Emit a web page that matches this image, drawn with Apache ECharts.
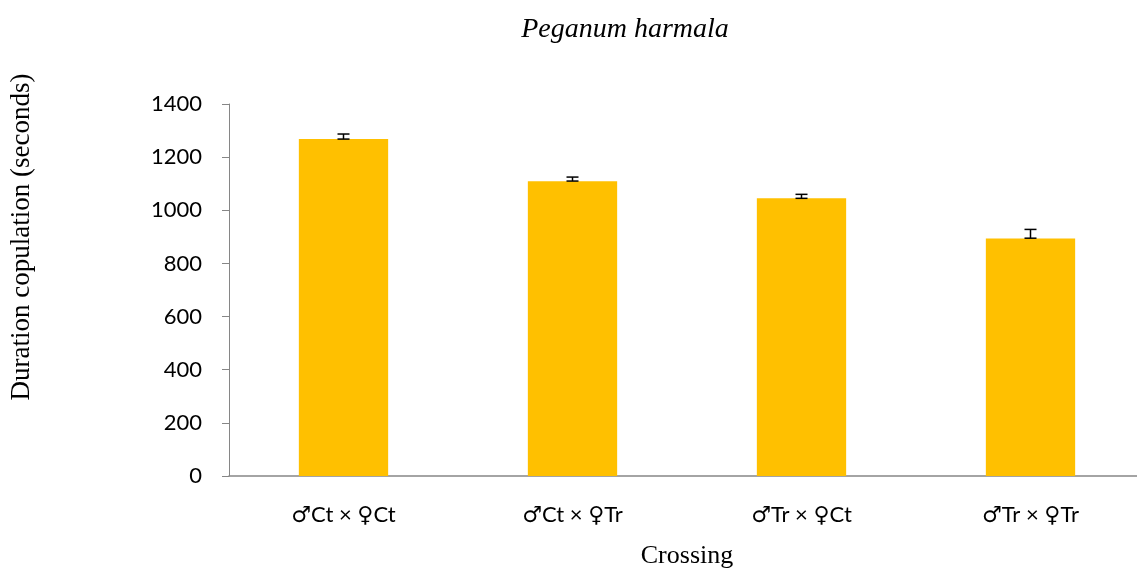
<!DOCTYPE html>
<head>
    <meta charset="utf-8">
    <title>Peganum harmala</title>
    <style>
        html, body { margin: 0; padding: 0; background: #fff; }
        #main { width: 1137px; height: 568px; }
    </style>
</head>
<body>
<div id="main"></div>

<script src="https://cdn.jsdelivr.net/npm/echarts@6/dist/echarts.min.js"></script>
<script type="text/javascript">
    // data
    var crossings = ['♂Ct × ♀Ct', '♂Ct × ♀Tr', '♂Tr × ♀Ct', '♂Tr × ♀Tr'];
    var durations = [1268, 1109, 1045, 894];
    var errLow = [1268, 1110, 1045, 895];
    var errHigh = [1287, 1125, 1060, 928];
    var yTicks = [0, 200, 400, 600, 800, 1000, 1200, 1400];

    var errData = crossings.map(function (c, i) {
        return [i, errLow[i], errHigh[i]];
    });

    var axisGray = '#868686';
    var serif = '"Liberation Serif", "DejaVu Serif", serif';

    var chart = echarts.init(document.getElementById('main'));
    chart.setOption({
        backgroundColor: '#fff',
        animation: false,
        title: {
            text: 'Peganum harmala',
            left: 620,
            top: 11,
            textAlign: 'center',
            textStyle: {
                fontFamily: serif,
                fontStyle: 'italic',
                fontWeight: 'normal',
                fontSize: 28,
                color: '#000'
            }
        },
        // y axis title sits higher than the plot middle, so it is placed by hand
        graphic: [{
            type: 'text',
            x: 22,
            y: 237,
            rotation: Math.PI / 2,
            style: {
                text: 'Duration copulation (seconds)',
                fontFamily: serif,
                fontSize: 27,
                fill: '#000',
                align: 'center',
                verticalAlign: 'middle'
            }
        }],
        grid: {
            left: 229,
            right: -8,
            top: 104,
            bottom: 92,
            outerBoundsMode: 'none',
            containLabel: false
        },
        xAxis: {
            type: 'category',
            data: crossings,
            name: 'Crossing',
            nameLocation: 'middle',
            nameGap: 67,
            nameTextStyle: {
                fontFamily: serif,
                fontSize: 26,
                color: '#000'
            },
            axisLine: { lineStyle: { color: axisGray, width: 1.5 } },
            axisTick: { length: 7, lineStyle: { color: axisGray } },
            axisLabel: {
                margin: 28,
                fontFamily: 'Lato, "DejaVu Sans", sans-serif',
                fontSize: 22,
                color: '#000'
            }
        },
        yAxis: {
            type: 'value',
            min: yTicks[0],
            max: yTicks[yTicks.length - 1],
            interval: 200,
            splitLine: { show: false },
            axisLine: { show: true, lineStyle: { color: axisGray, width: 1 } },
            axisTick: { show: true, length: 7, lineStyle: { color: axisGray } },
            axisLabel: {
                margin: 27,
                fontFamily: 'Lato, sans-serif',
                fontSize: 22,
                color: '#000',
                formatter: function (v) { return String(v); }
            }
        },
        series: [
            {
                type: 'bar',
                data: durations,
                barWidth: '39%',
                itemStyle: { color: '#FFC000' }
            },
            {
                type: 'custom',
                data: errData,
                z: 10,
                renderItem: function (params, api) {
                    var lo = api.coord([api.value(0), api.value(1)]);
                    var hi = api.coord([api.value(0), api.value(2)]);
                    var half = 6;
                    var style = { stroke: '#000', lineWidth: 1.5 };
                    return {
                        type: 'group',
                        children: [
                            { type: 'line', shape: { x1: lo[0], y1: lo[1], x2: hi[0], y2: hi[1] }, style: style },
                            { type: 'line', shape: { x1: lo[0] - half, y1: lo[1], x2: lo[0] + half, y2: lo[1] }, style: style },
                            { type: 'line', shape: { x1: hi[0] - half, y1: hi[1], x2: hi[0] + half, y2: hi[1] }, style: style }
                        ]
                    };
                }
            }
        ]
    });
</script>
</body>
